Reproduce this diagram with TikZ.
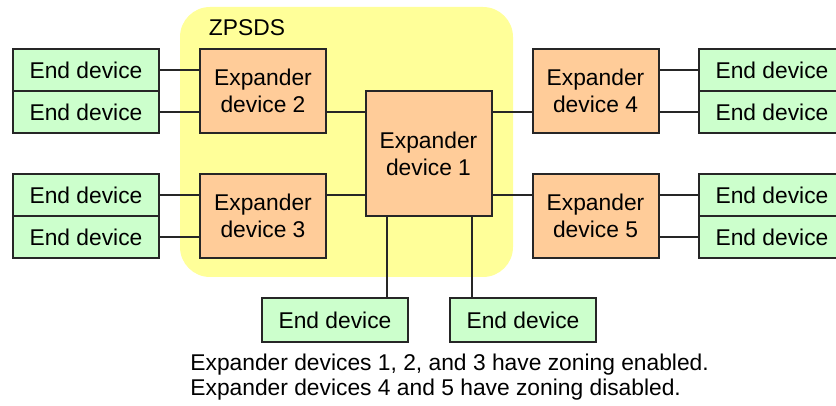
\documentclass[tikz,border=0pt]{standalone}
\usepackage{fontspec}
\setmainfont{Liberation Sans}
\usetikzlibrary{calc}

\definecolor{enddev}{HTML}{CCFFCC}
\definecolor{expdev}{HTML}{FFCC99}
\definecolor{zonebg}{HTML}{FFFF99}

\tikzset{
    box/.style={draw=black!85, line width=1pt, inner sep=0pt, align=center,
        font=\fontsize{11.4}{13.5}\selectfont},
    enddevice/.style={box, fill=enddev, minimum width=73pt, minimum height=21pt},
    expander/.style={box, fill=expdev, minimum width=63pt, minimum height=42pt},
    link/.style={draw=black!85, line width=1pt}
}

\begin{document}
\begin{tikzpicture}[x=0.5pt, y=-0.5pt]
    \useasboundingbox (0,0) rectangle (836,406);
    \clip (0,0) rectangle (836,406);
    % ZPSDS area
    \fill[zonebg, rounded corners=15pt] (180,7) rectangle (513,277);
    \node[font=\fontsize{11.4}{13}\selectfont] at (247,28) (ZONE) {ZPSDS};

    % expanders
    \node[expander] at (263,91) (EXP2) {Expander\\device 2};
    \node[expander] at (263,216) (EXP3) {Expander\\device 3};
    \node[expander, minimum height=62.5pt] at (428.5,153.5) (EXP1) {Expander\\device 1};
    \node[expander] at (595.5,91) (EXP4) {Expander\\device 4};
    \node[expander] at (595.5,216) (EXP5) {Expander\\device 5};

    % end devices
    \node[enddevice] at (86,70) (LEFTA) {End device};
    \node[enddevice] at (86,112) (LEFTB) {End device};
    \node[enddevice] at (86,195) (LEFTC) {End device};
    \node[enddevice] at (86,237) (LEFTD) {End device};
    \node[enddevice] at (772,70) (RIGHTA) {End device};
    \node[enddevice] at (772,112) (RIGHTB) {End device};
    \node[enddevice] at (772,195) (RIGHTC) {End device};
    \node[enddevice] at (772,237) (RIGHTD) {End device};
    \node[enddevice, minimum height=22pt] at (335,320) (BOTA) {End device};
    \node[enddevice, minimum height=22pt] at (523,320) (BOTB) {End device};

    % links
    \draw[link] (LEFTA.east) -- (EXP2.west |- LEFTA);
    \draw[link] (LEFTB.east) -- (EXP2.west |- LEFTB);
    \draw[link] (LEFTC.east) -- (EXP3.west |- LEFTC);
    \draw[link] (LEFTD.east) -- (EXP3.west |- LEFTD);
    \draw[link] (EXP2.east |- LEFTB) -- (EXP1.west |- LEFTB);
    \draw[link] (EXP3.east |- LEFTC) -- (EXP1.west |- LEFTC);
    \draw[link] (EXP1.east |- RIGHTB) -- (EXP4.west |- RIGHTB);
    \draw[link] (EXP1.east |- RIGHTC) -- (EXP5.west |- RIGHTC);
    \draw[link] (EXP4.east |- RIGHTA) -- (RIGHTA.west);
    \draw[link] (EXP4.east |- RIGHTB) -- (RIGHTB.west);
    \draw[link] (EXP5.east |- RIGHTC) -- (RIGHTC.west);
    \draw[link] (EXP5.east |- RIGHTD) -- (RIGHTD.west);
    \draw[link] ([xshift=11pt]EXP1.south west) -- ([xshift=11pt]EXP1.south west |- BOTA.north);
    \draw[link] ([xshift=-10.5pt]EXP1.south east) -- ([xshift=-10.5pt]EXP1.south east |- BOTB.north);

    \node[anchor=west, align=left, inner sep=0pt,
        font=\fontsize{11.4}{12.2}\selectfont] at (190,377) (NOTE)
        {Expander devices 1, 2, and 3 have zoning enabled.\\
         Expander devices 4 and 5 have zoning disabled.};
\end{tikzpicture}
\end{document}
